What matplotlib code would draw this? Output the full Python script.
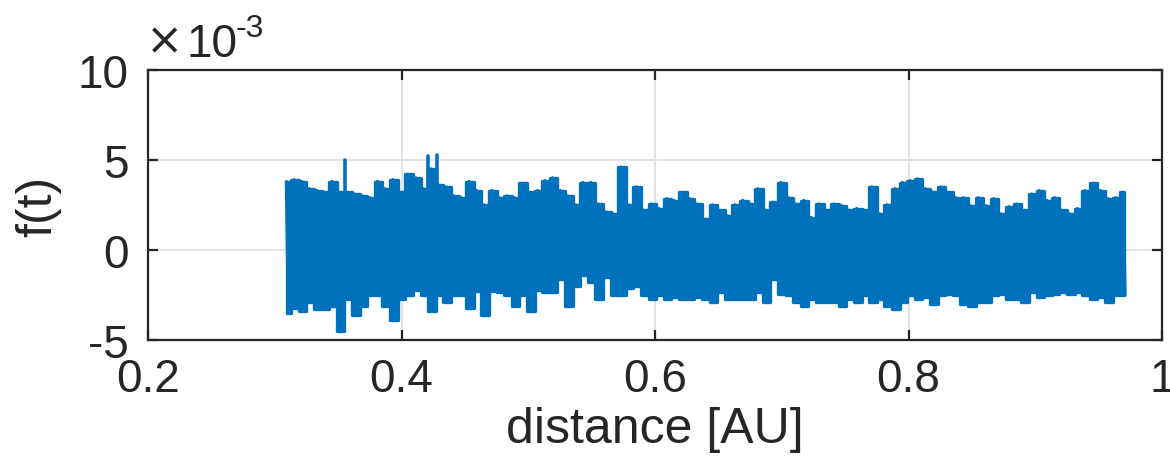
import numpy as np
import matplotlib
matplotlib.use("Agg")
import matplotlib.pyplot as plt

# sample positions along the distance axis [AU]
distance = [0.310, 0.316, 0.322, 0.328, 0.334, 0.340, 0.346, 0.352, 0.358, 0.364,
            0.370, 0.376, 0.382, 0.388, 0.394, 0.400, 0.406, 0.412, 0.418, 0.424,
            0.430, 0.436, 0.442, 0.448, 0.454, 0.460, 0.466, 0.472, 0.478, 0.484,
            0.490, 0.496, 0.502, 0.508, 0.514, 0.520, 0.526, 0.532, 0.538, 0.544,
            0.550, 0.556, 0.562, 0.568, 0.574, 0.580, 0.586, 0.592, 0.598, 0.604,
            0.610, 0.616, 0.622, 0.628, 0.634, 0.640, 0.646, 0.652, 0.658, 0.664,
            0.670, 0.676, 0.682, 0.688, 0.694, 0.700, 0.706, 0.712, 0.718, 0.724,
            0.730, 0.736, 0.742, 0.748, 0.754, 0.760, 0.766, 0.772, 0.778, 0.784,
            0.790, 0.796, 0.802, 0.808, 0.814, 0.820, 0.826, 0.832, 0.838, 0.844,
            0.850, 0.856, 0.862, 0.868, 0.874, 0.880, 0.886, 0.892, 0.898, 0.904,
            0.910, 0.916, 0.922, 0.928, 0.934, 0.940, 0.946, 0.952, 0.958, 0.964,
            0.970]

# upper swings of f(t) (units of 1e-3)
f_upper = [3.8, 3.9, 3.8, 3.4, 3.3, 3.2, 3.8, 3.2, 3.2, 3.1,
           3.0, 2.9, 3.8, 3.4, 3.9, 3.2, 4.2, 4.0, 3.4, 4.5,
           3.6, 3.5, 3.0, 2.9, 3.8, 3.3, 2.5, 3.3, 2.9, 3.0,
           2.9, 3.7, 3.2, 3.3, 3.85, 4.0, 3.3, 3.0, 2.5, 3.75,
           3.75, 2.55, 2.1, 2.0, 4.6, 2.5, 3.5, 2.2, 2.55, 2.3,
           2.85, 2.75, 3.2, 2.85, 2.55, 1.7, 2.5, 2.2, 1.9, 2.5,
           2.75, 2.55, 3.4, 2.2, 2.65, 3.75, 2.9, 2.55, 2.75, 1.8,
           2.55, 2.2, 2.55, 2.45, 2.2, 2.3, 2.2, 3.5, 2.0, 2.5,
           3.4, 3.75, 3.85, 3.95, 3.4, 3.2, 3.5, 3.2, 2.9, 2.9,
           2.45, 2.9, 2.45, 2.85, 2.0, 2.4, 2.55, 2.2, 3.1, 3.3,
           2.75, 2.9, 2.2, 2.0, 2.3, 3.3, 3.7, 3.3, 2.85, 2.9,
           3.2]

# lower swings of f(t) (units of 1e-3)
f_lower = [-3.5, -3.2, -3.4, -2.9, -3.3, -3.3, -3.1, -4.5, -2.7, -3.6,
           -3.1, -2.5, -2.5, -3.1, -3.9, -2.7, -2.5, -2.2, -2.5, -3.4,
           -2.5, -2.9, -2.5, -2.5, -3.2, -2.3, -3.6, -2.3, -2.35, -2.5,
           -3.1, -2.5, -3.4, -2.2, -2.35, -2.35, -1.6, -3.1, -2.0, -1.4,
           -1.8, -2.7, -1.5, -2.5, -2.5, -2.1, -2.0, -2.5, -2.7, -2.5,
           -2.7, -2.6, -2.7, -2.7, -2.6, -2.7, -2.9, -2.35, -2.7, -2.7,
           -2.7, -2.7, -2.35, -2.9, -1.6, -2.45, -2.5, -2.9, -3.1, -2.7,
           -2.9, -2.9, -2.9, -3.1, -2.7, -2.9, -2.5, -2.9, -2.7, -3.1,
           -3.3, -2.9, -2.5, -2.7, -2.6, -3.0, -2.5, -2.45, -2.5, -3.0,
           -3.1, -2.9, -2.9, -2.5, -2.45, -2.7, -2.7, -2.9, -2.35, -2.6,
           -2.5, -2.45, -2.35, -2.45, -2.35, -2.5, -2.7, -2.6, -2.9, -2.5,
           -2.5]

# isolated spikes (distance, value in 1e-3)
spike_distance = [0.3552, 0.4209, 0.4280]
spike_value = [5.0, 5.2, 5.3]

xticks = [0.2, 0.4, 0.6, 0.8, 1.0]
xticklabels = ["0.2", "0.4", "0.6", "0.8", "1"]
yticks = [-5, 0, 5, 10]
yticklabels = ["-5", "0", "5", "10"]

plt.rcParams['font.family'] = ['Liberation Sans', 'DejaVu Sans']

blue = '#0072BD'
dark = '#262626'

# oscillating trace: near-vertical strokes between upper and lower swings
d = np.array(distance)
off = 0.0008
tx = []
ty = []
for i in range(len(d)):
    tx.append(d[i] - off); ty.append(f_upper[i])
    tx.append(d[i] + off); ty.append(f_lower[i])

W, H = 1170, 464
fig = plt.figure(figsize=(W/100, H/100), dpi=100)
ax = fig.add_axes([148/W, 1 - 341/H, (1162-148)/W, (341-71)/H])

ax.fill_between(d, f_lower, f_upper, step='mid', color=blue, linewidth=2.4,
                edgecolor=blue, joinstyle='round', zorder=2)
ax.plot(tx, ty, color=blue, linewidth=2.4, solid_joinstyle='round',
        solid_capstyle='round', zorder=3)
ax.vlines(spike_distance, 0, spike_value, color=blue, linewidth=2.6,
          capstyle='round', zorder=3)

ax.set_xlim(0.2, 1.0)
ax.set_ylim(-5, 10)
ax.set_xticks(xticks)
ax.set_xticklabels(xticklabels)
ax.set_yticks(yticks)
ax.set_yticklabels(yticklabels)
ax.grid(True, color='#e3e3e3', linewidth=1.5, zorder=0)
ax.set_axisbelow(True)

for s in ax.spines.values():
    s.set_color(dark)
    s.set_linewidth(1.6)
ax.tick_params(axis='both', which='major', direction='in', length=7, width=1.6,
               colors=dark, labelsize=33, top=True, right=True)
ax.tick_params(axis='x', pad=12)
ax.tick_params(axis='y', pad=14)

ax.set_xlabel('distance [AU]', fontsize=36, color=dark, labelpad=4)
ax.set_ylabel('f(t)', fontsize=36, color=dark, labelpad=12)

# exponent label above the y axis
fig.text(165/W, 1 - 42/H, '\u00d7', fontsize=32, color=dark,
         family='DejaVu Sans', ha='center', va='center')
fig.text(187/W, 1 - 57/H, '10', fontsize=33, color=dark,
         ha='left', va='baseline')
fig.text(236/W, 1 - 37/H, '-3', fontsize=23, color=dark,
         ha='left', va='baseline')

fig.savefig('out.png', dpi=100, facecolor='white')
